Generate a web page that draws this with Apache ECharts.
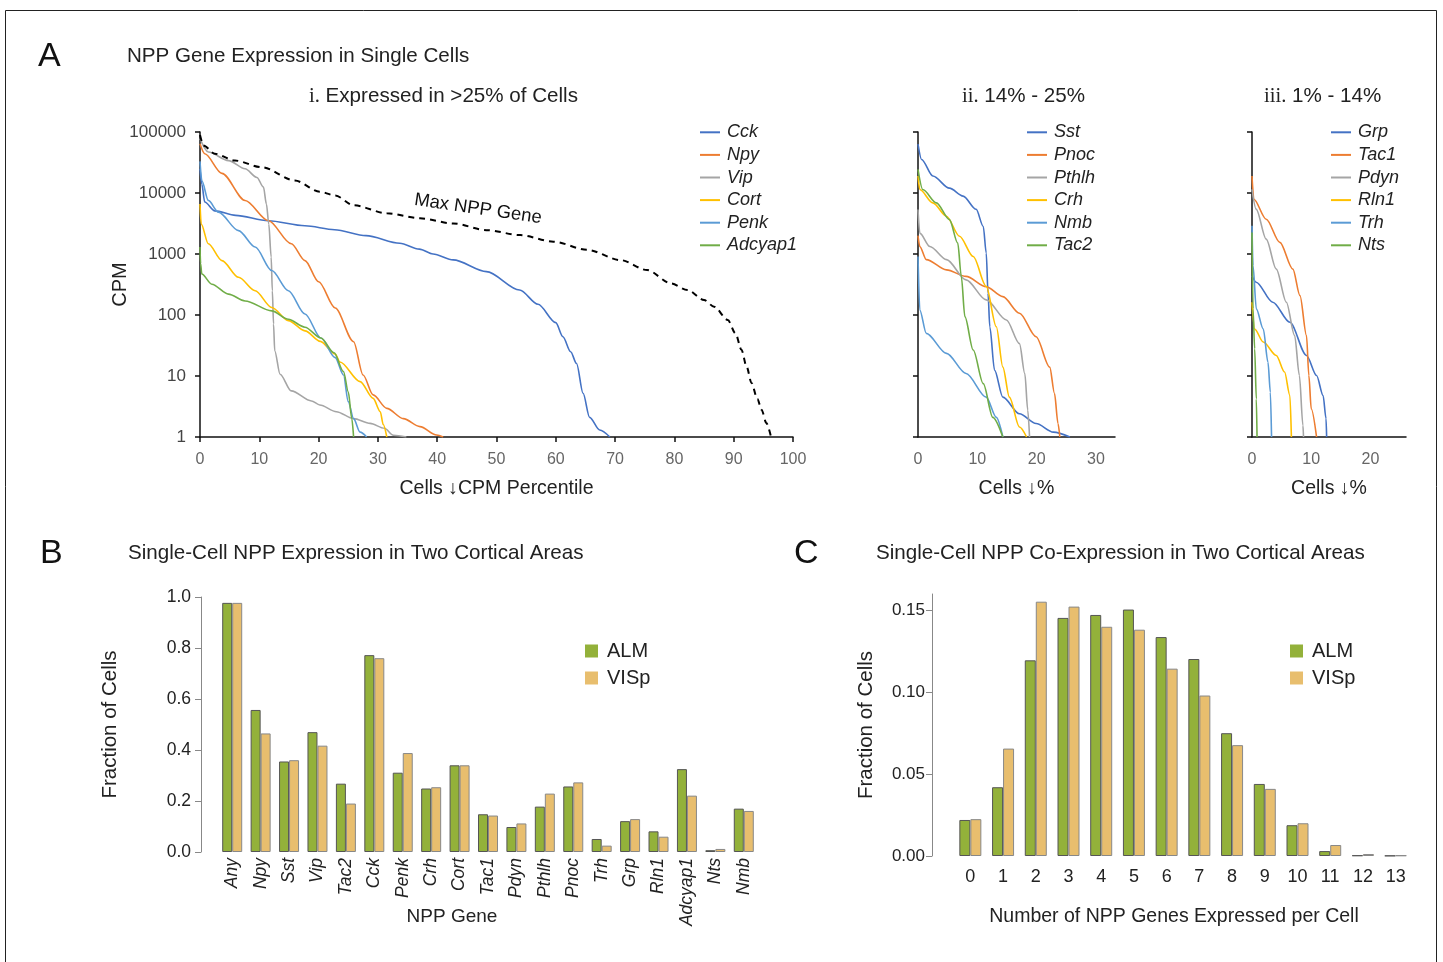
<!DOCTYPE html>
<html>
<head>
<meta charset="utf-8">
<script src="https://cdn.jsdelivr.net/npm/echarts@6.0.0/dist/echarts.min.js"></script>
<style>
  body { margin: 0; background: #fff; }
  #chart { width: 1443px; height: 962px; }
</style>
</head>
<body>
<div id="chart"></div>
<script>
// ---- Panel A data: [cells %, CPM] ----
const maxNpp = [[0,89000],[0.6,60000],[2.5,44000],[5.9,34000],[10.4,26500],[16,16000],[20.2,10500],[22.8,9100],[25.9,6300],[31.5,4650],[37.1,3850],[42.7,3170],[48.3,2460],[54,2040],[59.6,1590],[65.3,1170],[70.9,795],[75.4,545],[79.4,330],[82.2,257],[85,176],[86.7,137],[89,83],[90.3,50],[91.3,27],[92.2,14],[93,7.7],[94,4.2],[94.7,2.8],[95.5,1.7],[96.3,1]];

const cck = [[0,25000],[0.3,14000],[0.8,7100],[2.5,5100],[6,4300],[11.5,3500],[17.7,2900],[22.7,2500],[28,2000],[33.7,1500],[37,1200],[39.3,1000],[42.7,800],[48.3,515],[53.9,257],[57,150],[60,75],[61.2,44],[62.5,25],[63.5,16],[64.6,5.2],[65.7,2.1],[67.4,1.3],[69.1,1]];
const npy = [[0,64000],[0.8,44000],[3.7,21000],[7.6,7550],[11.5,3540],[15.4,1470],[17.7,780],[20,350],[22.8,130],[25.9,36.5],[27.5,10.4],[29.2,4.9],[31.5,2.95],[34.3,2.0],[37.1,1.48],[39.9,1.08],[41,1]];
const vip = [[0,78000],[1.4,47000],[4.8,34000],[7.6,25000],[9.6,18000],[10.7,12500],[11.2,6600],[11.6,3100],[12,890],[12.2,250],[12.4,71],[12.6,26],[13.5,10.7],[15.4,5.7],[18.8,3.9],[20.2,3.35],[23,2.6],[25.9,2.0],[28.7,1.67],[31.1,1.39],[32.6,1.07],[34.8,1]];
const cort = [[0,6600],[0.2,3100],[1.4,1470],[3.7,780],[6.5,415],[9.3,250],[12.1,133],[14.9,81],[17.7,55],[20.3,37],[22.8,23],[23.6,17],[27,8.1],[29.2,4.3],[30.4,2.6],[30.9,1.6],[31.5,1]];
const penk = [[0,33000],[0.3,16000],[1.4,7560],[3.1,4850],[6.5,2420],[9.3,1300],[12.1,535],[14.9,250],[17.7,104],[20.4,42],[22.8,20],[24.2,10.4],[25,3.8],[25.9,2.0],[27,1.2],[28.1,1]];
const adcyap1 = [[0,1300],[0.1,700],[0.3,470],[2,320],[4.8,220],[7.6,170],[12.1,117],[14.9,85],[17.7,63],[20.4,42],[22.6,24],[24.2,11.8],[25,5.5],[25.6,2.0],[25.9,1]];

const sst = [[0,63000],[0.6,35500],[2.5,19000],[5.3,12000],[7.6,8900],[9.8,5400],[11,2830],[11.5,1040],[11.8,228],[12.1,64],[12.9,12.5],[14.3,4.5],[17.1,2.4],[19.9,1.66],[22.8,1.2],[25.6,1]];
const pnoc = [[0,2000],[0.3,1330],[1.4,810],[4.8,550],[8.1,430],[11.5,290],[14.3,200],[17.1,107],[19.9,44],[22.2,14],[23,5.2],[23.6,1.66],[23.9,1]];
const pthlh = [[0,5360],[0.3,2200],[2,1330],[4.8,810],[8.1,377],[11.5,177],[14.9,83],[17.1,34],[18,11],[18.5,2.75],[18.8,1]];
const crh = [[0,19000],[0.3,11400],[2.5,6900],[4.8,4160],[7,1950],[9.3,910],[11.5,295],[13.2,64],[14.3,14],[15.4,4.5],[17.1,1.46],[18.3,1]];
const nmb = [[0,910],[0.3,121],[1.4,50],[4.8,23.5],[8.1,11],[11.5,4.5],[13.2,2.1],[14.3,1]];
const tac2 = [[0,24400],[0.8,11400],[3.1,6900],[5.3,3660],[6.7,1510],[7.3,427],[7.9,94],[9.3,26.7],[11,7.5],[12.6,2.1],[14.3,1]];

const grp = [[0,440],[0.7,345],[3.5,162],[6.4,76],[9.2,21.7],[10.9,10.2],[12,4.8],[12.5,2],[12.6,1]];
const tac1 = [[0,19000],[0.3,7900],[2.4,3720],[4.7,1550],[6.9,565],[8.1,208],[9.2,46],[9.6,10.2],[10,2.9],[10.9,1]];
const pdyn = [[0,11500],[0.7,5450],[2.4,1750],[4.1,565],[5.8,162],[7.2,46],[8,10.2],[8.6,1.55],[8.7,1]];
const rln1 = [[0,162],[0.45,59],[1.9,36],[4.1,21.7],[5.5,11.6],[6.4,4.8],[6.65,1]];
const trh = [[0,2900],[0.17,645],[0.73,126],[1.9,59],[2.7,16.8],[3.1,5.4],[3.3,1]];
const nts = [[0,2250],[0.17,126],[0.45,28],[0.73,4.2],[0.85,1]];

// ---- Panel B data ----
const genesB = ['Any','Npy','Sst','Vip','Tac2','Cck','Penk','Crh','Cort','Tac1','Pdyn','Pthlh','Pnoc','Trh','Grp','Rln1','Adcyap1','Nts','Nmb'];
const almB  = [0.977,0.557,0.355,0.47,0.268,0.772,0.311,0.249,0.34,0.148,0.098,0.178,0.257,0.051,0.121,0.081,0.325,0.007,0.17];
const vispB = [0.977,0.465,0.36,0.417,0.19,0.76,0.388,0.254,0.34,0.143,0.112,0.229,0.273,0.025,0.129,0.06,0.221,0.012,0.161];

// ---- Panel C data ----
const countsC = ['0','1','2','3','4','5','6','7','8','9','10','11','12','13'];
const almC  = [0.022,0.042,0.1195,0.1454,0.1472,0.1505,0.1337,0.1203,0.075,0.044,0.0188,0.003,0.0004,0.0002];
const vispC = [0.0225,0.0656,0.1553,0.1523,0.14,0.1382,0.1144,0.098,0.0677,0.041,0.02,0.0067,0.0012,0.0004];

const C_BLUE = '#4472C4', C_ORANGE = '#ED7D31', C_GRAY = '#A5A5A5',
      C_YELLOW = '#FFC000', C_LBLUE = '#5B9BD5', C_GREEN = '#70AD47';
const GREEN_BAR = '#93b13a', TAN_BAR = '#e8be6e';

const chart = echarts.init(document.getElementById('chart'));

const FONT = '"Liberation Sans", Arial, Helvetica, sans-serif';
const axisBlack = { lineStyle: { color: '#111', width: 1.5 } };

function lineSeries(name, data, color, gi) {
  return {
    name, type: 'line', data, xAxisIndex: gi, yAxisIndex: gi,
    showSymbol: false, smooth: 0.3, smoothMonotone: 'x',
    lineStyle: { color, width: 1.6 }, itemStyle: { color },
    z: 3
  };
}

function cpmYAxis(gi, showLabels) {
  return {
    gridIndex: gi, type: 'log', logBase: 10, min: 1, max: 100000,
    axisLine: { show: true, ...axisBlack },
    axisTick: { show: true, length: 5, lineStyle: { color: '#111', width: 1.5 } },
    axisLabel: { show: showLabels, fontSize: 17, color: '#444', margin: 14,
      formatter: v => String(Math.round(v)) },
    splitLine: { show: false },
    name: showLabels ? 'CPM' : '', nameLocation: 'middle', nameGap: 70, nameMoveOverlap: false,
    nameTextStyle: { fontSize: 20, color: '#222' }
  };
}

function pctXAxis(gi, max, ticks, name, showTicks) {
  return {
    gridIndex: gi, type: 'value', min: 0, max,
    axisLine: { show: true, ...axisBlack },
    axisTick: showTicks ? { show: true, length: 5, lineStyle: { color: '#111', width: 1.5 }, customValues: ticks }
                        : { show: false },
    axisLabel: { fontSize: 16, color: '#666', margin: 15, customValues: ticks },
    splitLine: { show: false },
    name, nameLocation: 'middle', nameGap: 42, nameMoveOverlap: false,
    nameTextStyle: { fontSize: 19.5, color: '#222' }
  };
}

function lineLegend(names, left) {
  return {
    data: names, orient: 'vertical', left, top: 123, padding: 0,
    icon: 'rect', itemWidth: 20, itemHeight: 2, itemGap: 4,
    textStyle: { fontSize: 18, fontStyle: 'italic', color: '#222', lineHeight: 18.6, padding: [0, 0, 0, 2] }
  };
}

function barLegend(left) {
  return {
    data: ['ALM', 'VISp'], orient: 'vertical', left, top: 641, padding: 0,
    icon: 'rect', itemWidth: 13, itemHeight: 13, itemGap: 7,
    itemStyle: { borderWidth: 0 },
    textStyle: { fontSize: 20, color: '#222', lineHeight: 20, padding: [0, 0, 0, 4] }
  };
}

const titleStyle = { fontSize: 20.6, fontWeight: 'normal', color: '#222' };
const serifRich = { s: { fontFamily: '"Liberation Serif", "DejaVu Serif", serif', fontSize: 20.6, color: '#222' } };

const option = {
  animation: false,
  backgroundColor: '#fff',
  textStyle: { fontFamily: FONT },
  title: [
    { text: 'A', left: 38, top: 40, padding: 0, textStyle: { fontSize: 34, fontWeight: 'normal', color: '#111' } },
    { text: 'NPP Gene Expression in Single Cells', left: 127, top: 46, padding: 0, textStyle: titleStyle },
    { text: '{s|i.} Expressed in >25% of Cells', left: 309, top: 86, padding: 0, textStyle: { ...titleStyle, rich: serifRich } },
    { text: '{s|ii.} 14% - 25%', left: 962, top: 86, padding: 0, textStyle: { ...titleStyle, rich: serifRich } },
    { text: '{s|iii.} 1% - 14%', left: 1264, top: 86, padding: 0, textStyle: { ...titleStyle, rich: serifRich } },
    { text: 'B', left: 40, top: 537, padding: 0, textStyle: { fontSize: 34, fontWeight: 'normal', color: '#111' } },
    { text: 'Single-Cell NPP Expression in Two Cortical Areas', left: 128, top: 543, padding: 0, textStyle: titleStyle },
    { text: 'C', left: 794, top: 537, padding: 0, textStyle: { fontSize: 34, fontWeight: 'normal', color: '#111' } },
    { text: 'Single-Cell NPP Co-Expression in Two Cortical Areas', left: 876, top: 543, padding: 0, textStyle: titleStyle }
  ],
  legend: [
    lineLegend(['Cck','Npy','Vip','Cort','Penk','Adcyap1'], 700),
    lineLegend(['Sst','Pnoc','Pthlh','Crh','Nmb','Tac2'], 1027),
    lineLegend(['Grp','Tac1','Pdyn','Rln1','Trh','Nts'], 1331),
    barLegend(585),
    barLegend(1290)
  ],
  grid: [
    { left: 200, top: 132, width: 593, height: 305 },
    { left: 918, top: 132, width: 197, height: 305 },
    { left: 1252, top: 132, width: 154, height: 305 },
    { left: 218, top: 597, width: 540, height: 255 },
    { left: 954, top: 594, width: 458, height: 262 }
  ],
  xAxis: [
    pctXAxis(0, 100, [0,10,20,30,40,50,60,70,80,90,100], 'Cells \u2193CPM Percentile', true),
    pctXAxis(1, 33.2, [0,10,20,30], 'Cells \u2193%', false),
    pctXAxis(2, 26, [0,10,20], 'Cells \u2193%', false),
    {
      gridIndex: 3, type: 'category', data: genesB,
      axisLine: { show: false }, axisTick: { show: false },
      axisLabel: { rotate: 90, fontSize: 17.5, fontStyle: 'italic', color: '#222', margin: 6, interval: 0 },
      name: 'NPP Gene', nameLocation: 'middle', nameGap: 55, nameMoveOverlap: false,
      nameTextStyle: { fontSize: 19, color: '#222', padding: [0, 72, 0, 0] }
    },
    {
      gridIndex: 4, type: 'category', data: countsC,
      axisLine: { show: false }, axisTick: { show: false },
      axisLabel: { fontSize: 18, color: '#222', margin: 12, interval: 0 },
      name: 'Number of NPP Genes Expressed per Cell', nameLocation: 'middle', nameGap: 51, nameMoveOverlap: false,
      nameTextStyle: { fontSize: 19.5, color: '#222', padding: [0, 18, 0, 0] }
    }
  ],
  yAxis: [
    cpmYAxis(0, true),
    cpmYAxis(1, false),
    cpmYAxis(2, false),
    {
      gridIndex: 3, type: 'value', min: 0, max: 1, interval: 0.2, offset: 17,
      axisLine: { show: true, lineStyle: { color: '#888' } },
      axisTick: { show: true, length: 6, lineStyle: { color: '#888' } },
      axisLabel: { fontSize: 17.5, color: '#222', margin: 10, formatter: v => v.toFixed(1) },
      splitLine: { show: false },
      name: 'Fraction of Cells', nameLocation: 'middle', nameGap: 80, nameMoveOverlap: false,
      nameTextStyle: { fontSize: 20.5, color: '#222' }
    },
    {
      gridIndex: 4, type: 'value', min: 0, max: 0.16, offset: 22,
      axisLine: { show: true, lineStyle: { color: '#888' } },
      axisTick: { show: true, length: 6, lineStyle: { color: '#888' }, customValues: [0, 0.05, 0.1, 0.15] },
      axisLabel: { fontSize: 17, color: '#222', margin: 7, customValues: [0, 0.05, 0.1, 0.15],
        formatter: v => v.toFixed(2) },
      splitLine: { show: false },
      name: 'Fraction of Cells', nameLocation: 'middle', nameGap: 55, nameMoveOverlap: false,
      nameTextStyle: { fontSize: 20.5, color: '#222' }
    }
  ],
  series: [
    {
      name: 'Max NPP Gene', type: 'line', data: maxNpp, xAxisIndex: 0, yAxisIndex: 0,
      showSymbol: false, smooth: 0.3, smoothMonotone: 'x',
      lineStyle: { color: '#000', width: 2, type: [6, 5] }, z: 4
    },
    lineSeries('Cck', cck, C_BLUE, 0),
    lineSeries('Npy', npy, C_ORANGE, 0),
    lineSeries('Vip', vip, C_GRAY, 0),
    lineSeries('Cort', cort, C_YELLOW, 0),
    lineSeries('Penk', penk, C_LBLUE, 0),
    lineSeries('Adcyap1', adcyap1, C_GREEN, 0),

    lineSeries('Sst', sst, C_BLUE, 1),
    lineSeries('Pnoc', pnoc, C_ORANGE, 1),
    lineSeries('Pthlh', pthlh, C_GRAY, 1),
    lineSeries('Crh', crh, C_YELLOW, 1),
    lineSeries('Nmb', nmb, C_LBLUE, 1),
    lineSeries('Tac2', tac2, C_GREEN, 1),

    lineSeries('Grp', grp, C_BLUE, 2),
    lineSeries('Tac1', tac1, C_ORANGE, 2),
    lineSeries('Pdyn', pdyn, C_GRAY, 2),
    lineSeries('Rln1', rln1, C_YELLOW, 2),
    lineSeries('Trh', trh, C_LBLUE, 2),
    lineSeries('Nts', nts, C_GREEN, 2),

    { name: 'ALM', type: 'bar', data: almB, xAxisIndex: 3, yAxisIndex: 3, barWidth: 10, barGap: '0%',
      itemStyle: { color: GREEN_BAR, borderColor: '#555', borderWidth: 1 } },
    { name: 'VISp', type: 'bar', data: vispB, xAxisIndex: 3, yAxisIndex: 3, barWidth: 10, barGap: '0%',
      itemStyle: { color: TAN_BAR, borderColor: '#888', borderWidth: 1 } },
    { name: 'ALM', type: 'bar', data: almC, xAxisIndex: 4, yAxisIndex: 4, barWidth: 11, barGap: '0%',
      itemStyle: { color: GREEN_BAR, borderColor: '#555', borderWidth: 1 } },
    { name: 'VISp', type: 'bar', data: vispC, xAxisIndex: 4, yAxisIndex: 4, barWidth: 11, barGap: '0%',
      itemStyle: { color: TAN_BAR, borderColor: '#888', borderWidth: 1 } }
  ],
  graphic: [
    { type: 'rect', shape: { x: 5.5, y: 10.5, width: 1431, height: 1000 },
      style: { fill: 'none', stroke: '#222', lineWidth: 1 }, silent: true },
    { type: 'text', x: 478, y: 209, rotation: -0.145,
      style: { text: 'Max NPP Gene', fill: '#111', font: '18.5px ' + FONT,
        textAlign: 'center', textVerticalAlign: 'middle' } }
  ]
};

chart.setOption(option);
</script>
</body>
</html>
